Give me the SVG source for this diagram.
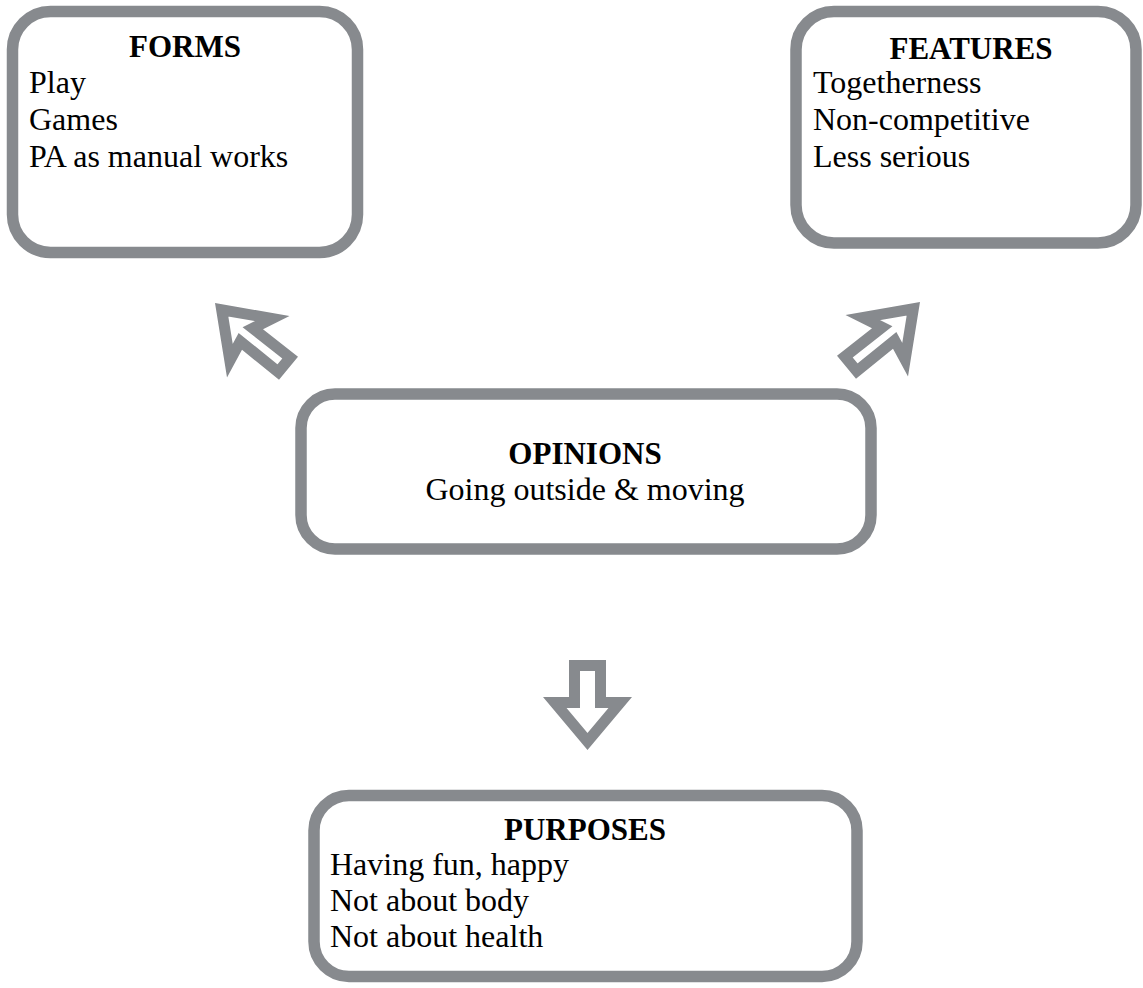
<svg xmlns="http://www.w3.org/2000/svg" width="1143" height="988" viewBox="0 0 1143 988">
<defs>
<style>
.box{fill:#ffffff;stroke:#878a8e;stroke-width:11.5}
.t{font-family:"Liberation Serif","Times New Roman",serif;font-size:32px;fill:#000}
.h{font-weight:bold;text-anchor:middle;font-size:31px}
.c{text-anchor:middle}
.arr{fill:#ffffff;stroke:#878a8e;stroke-width:22;stroke-linejoin:miter;stroke-miterlimit:10}
</style>
<clipPath id="cUL"><polygon points="215,303 289.5,316 263,329.3 298,356.8 279,379.8 242,349.8 227,377.5"/></clipPath>
<clipPath id="cUR"><polygon points="920,302 845.5,315 872,328.3 837,355.8 856,378.8 893,348.8 908,376.5"/></clipPath>
<clipPath id="cD"><polygon points="569,660 606,660 606,697 632,697 587.5,750 543,697 569,697"/></clipPath>
</defs>
<rect width="1143" height="988" fill="#ffffff"/>
<g id="connectors">
<polygon class="arr" clip-path="url(#cUL)" points="215,303 289.5,316 263,329.3 298,356.8 279,379.8 242,349.8 227,377.5"/>
<polygon class="arr" clip-path="url(#cUR)" points="920,302 845.5,315 872,328.3 837,355.8 856,378.8 893,348.8 908,376.5"/>
<polygon class="arr" clip-path="url(#cD)" points="569,660 606,660 606,697 632,697 587.5,750 543,697 569,697"/>
</g>
<g id="forms">
<rect class="box" x="12.5" y="11.5" width="345" height="241" rx="38"/>
<text class="t h" x="185" y="57">FORMS</text>
<text class="t" x="29" y="93">Play</text>
<text class="t" x="29" y="130">Games</text>
<text class="t" x="29" y="167">PA as manual works</text>
</g>
<g id="features">
<rect class="box" x="796" y="11.5" width="340" height="231.5" rx="38"/>
<text class="t h" x="971" y="59">FEATURES</text>
<text class="t" x="813" y="93">Togetherness</text>
<text class="t" x="813" y="130">Non-competitive</text>
<text class="t" x="813" y="167">Less serious</text>
</g>
<g id="opinions">
<rect class="box" x="301" y="394" width="570" height="155" rx="34"/>
<text class="t h" x="585" y="464">OPINIONS</text>
<text class="t c" x="585" y="500">Going outside &amp; moving</text>
</g>
<g id="purposes">
<rect class="box" x="314" y="795.5" width="543" height="181" rx="35"/>
<text class="t h" x="585" y="840">PURPOSES</text>
<text class="t" x="330" y="875">Having fun, happy</text>
<text class="t" x="330" y="911">Not about body</text>
<text class="t" x="330" y="947">Not about health</text>
</g>
</svg>
